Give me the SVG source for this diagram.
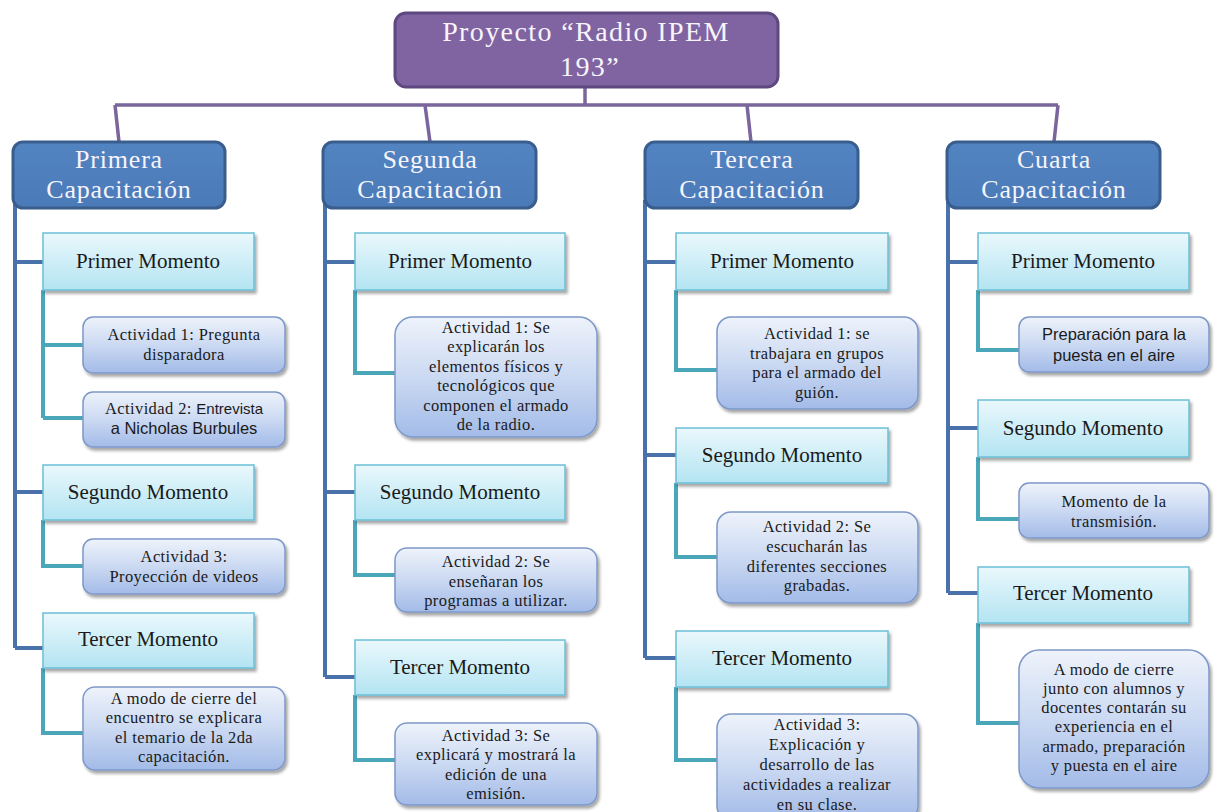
<svg xmlns="http://www.w3.org/2000/svg" width="1214" height="812" viewBox="0 0 1214 812">
<defs>
<linearGradient id="gMom" x1="0" y1="0" x2="0" y2="1">
<stop offset="0" stop-color="#eaf8fc"/><stop offset="1" stop-color="#b3e4f2"/>
</linearGradient>
<linearGradient id="gAct" x1="0" y1="0" x2="0" y2="1">
<stop offset="0" stop-color="#eef3fb"/><stop offset="0.5" stop-color="#cbd9f2"/><stop offset="1" stop-color="#a3bbe8"/>
</linearGradient>
<linearGradient id="gCap" x1="0" y1="0" x2="0" y2="1">
<stop offset="0" stop-color="#5384c2"/><stop offset="1" stop-color="#4a7ab7"/>
</linearGradient>
<filter id="sh" x="-10%" y="-10%" width="125%" height="135%">
<feDropShadow dx="2" dy="3" stdDeviation="1.8" flood-color="#000" flood-opacity="0.35"/>
</filter>
</defs>
<style>
.top{fill:#8064a2;stroke:#5e4880;stroke-width:3}
.cap{fill:url(#gCap);stroke:#395e8e;stroke-width:3}
.mom{fill:url(#gMom);stroke:#6bbfd6;stroke-width:1.5}
.act{fill:url(#gAct);stroke:#7d98c8;stroke-width:1.5}
.tw{font-family:"Liberation Serif","Times New Roman",serif;fill:#f7f4fb;text-anchor:middle}
.tm{font-family:"Liberation Serif","Times New Roman",serif;font-size:21px;fill:#1a1a1a;text-anchor:middle}
.ta{font-family:"Liberation Serif","Times New Roman",serif;font-size:16.5px;letter-spacing:0.4px;fill:#1a1a1a;text-anchor:middle}
.ts{font-family:"Liberation Sans",Arial,sans-serif;letter-spacing:0}
.cp{fill:none;stroke:#7a659c;stroke-width:3.5}
.cb{fill:none;stroke:#4a72aa;stroke-width:4}
.ct{fill:none;stroke:#4aa7ba;stroke-width:4}
</style>
<rect width="1214" height="812" fill="#fff"/>

<g id="connectors">
<path class="cp" d="M585,87 V105 M115,105 H1058 M115,105 L119,142 M425,105 L430,142 M747,105 L751,142 M1058,105 L1054,142"/>
<path class="cb" d="M15,200 V648 M15,262 H43 M15,492 H43 M15,648 H43"/>
<path class="cb" d="M325,200 V677 M325,262 H355 M325,492 H355 M325,677 H355"/>
<path class="cb" d="M645,200 V658 M645,262 H676 M645,455 H676 M645,658 H676"/>
<path class="cb" d="M948,200 V593 M948,262 H978 M948,428 H978 M948,593 H978"/>
<path class="ct" d="M43,290 V418 M43,345 H83 M43,418 H83 M43,520 V566 H83 M43,668 V733 H83"/>
<path class="ct" d="M355,290 V373 H395 M355,520 V575 H395 M355,695 V760 H395"/>
<path class="ct" d="M676,290 V370 H717 M676,483 V557 H717 M676,687 V760 H717"/>
<path class="ct" d="M978,290 V350 H1019 M978,457 V519 H1019 M978,623 V723 H1019"/>
</g>

<g id="root">
<rect class="top" x="395" y="13" width="383" height="74" rx="11"/>
<text class="tw" font-size="28" letter-spacing="1.4" x="586" y="41">Proyecto “Radio IPEM</text>
<text class="tw" font-size="28" letter-spacing="1.4" x="590" y="76">193”</text>
</g>

<g id="cap1"><rect class="cap" x="13" y="142" width="212" height="66" rx="10"/>
<text class="tw" font-size="26" letter-spacing="0.8" x="119" y="168">Primera</text><text class="tw" font-size="26" letter-spacing="0.8" x="119" y="198">Capacitación</text></g>
<g id="cap2"><rect class="cap" x="323" y="142" width="213" height="66" rx="10"/>
<text class="tw" font-size="26" letter-spacing="0.8" x="430" y="168">Segunda</text><text class="tw" font-size="26" letter-spacing="0.8" x="430" y="198">Capacitación</text></g>
<g id="cap3"><rect class="cap" x="645" y="142" width="213" height="66" rx="10"/>
<text class="tw" font-size="26" letter-spacing="0.8" x="752" y="168">Tercera</text><text class="tw" font-size="26" letter-spacing="0.8" x="752" y="198">Capacitación</text></g>
<g id="cap4"><rect class="cap" x="947" y="142" width="213" height="66" rx="10"/>
<text class="tw" font-size="26" letter-spacing="0.8" x="1054" y="168">Cuarta</text><text class="tw" font-size="26" letter-spacing="0.8" x="1054" y="198">Capacitación</text></g>

<!-- Column 1 -->
<g id="c1m1"><rect class="mom" filter="url(#sh)" x="43" y="233" width="211" height="57"/><text class="tm" x="148" y="268">Primer Momento</text></g>
<g id="c1a1"><rect class="act" filter="url(#sh)" x="83" y="317" width="202" height="56" rx="10"/>
<text class="ta" x="184" y="340">Actividad 1: Pregunta</text><text class="ta" x="184" y="360">disparadora</text></g>
<g id="c1a2"><rect class="act" filter="url(#sh)" x="83" y="392" width="202" height="55" rx="10"/>
<text class="ta" x="184" y="414">Actividad 2:  <tspan class="ts" font-size="15">Entrevista</tspan></text><text class="ta ts" font-size="15" x="184" y="434">a Nicholas Burbules</text></g>
<g id="c1m2"><rect class="mom" filter="url(#sh)" x="43" y="465" width="211" height="55"/><text class="tm" x="148" y="499">Segundo Momento</text></g>
<g id="c1a3"><rect class="act" filter="url(#sh)" x="83" y="539" width="202" height="55" rx="10"/>
<text class="ta" x="184" y="562">Actividad 3:</text><text class="ta" x="184" y="582">Proyección de videos</text></g>
<g id="c1m3"><rect class="mom" filter="url(#sh)" x="43" y="613" width="211" height="55"/><text class="tm" x="148" y="646">Tercer Momento</text></g>
<g id="c1a4"><rect class="act" filter="url(#sh)" x="83" y="687" width="202" height="83" rx="12"/>
<text class="ta" x="184" y="704">A modo de cierre  del</text><text class="ta" x="184" y="723">encuentro se explicara</text><text class="ta" x="184" y="743">el temario de la 2da</text><text class="ta" x="184" y="762">capacitación.</text></g>

<!-- Column 2 -->
<g id="c2m1"><rect class="mom" filter="url(#sh)" x="355" y="233" width="210" height="57"/><text class="tm" x="460" y="268">Primer Momento</text></g>
<g id="c2a1"><rect class="act" filter="url(#sh)" x="395" y="317" width="202" height="120" rx="18"/>
<text class="ta" x="496" y="333">Actividad 1: Se</text><text class="ta" x="496" y="352">explicarán los</text><text class="ta" x="496" y="372">elementos físicos y</text><text class="ta" x="496" y="391">tecnológicos que</text><text class="ta" x="496" y="411">componen el armado</text><text class="ta" x="496" y="430">de la radio.</text></g>
<g id="c2m2"><rect class="mom" filter="url(#sh)" x="355" y="465" width="210" height="55"/><text class="tm" x="460" y="499">Segundo Momento</text></g>
<g id="c2a2"><rect class="act" filter="url(#sh)" x="395" y="548" width="202" height="64" rx="12"/>
<text class="ta" x="496" y="567">Actividad 2: Se</text><text class="ta" x="496" y="587">enseñaran los</text><text class="ta" x="496" y="606">programas a utilizar.</text></g>
<g id="c2m3"><rect class="mom" filter="url(#sh)" x="355" y="640" width="210" height="55"/><text class="tm" x="460" y="674">Tercer Momento</text></g>
<g id="c2a3"><rect class="act" filter="url(#sh)" x="395" y="723" width="202" height="82" rx="12"/>
<text class="ta" x="496" y="741">Actividad 3: Se</text><text class="ta" x="496" y="760">explicará y mostrará la</text><text class="ta" x="496" y="780">edición de una</text><text class="ta" x="496" y="799">emisión.</text></g>

<!-- Column 3 -->
<g id="c3m1"><rect class="mom" filter="url(#sh)" x="676" y="233" width="212" height="57"/><text class="tm" x="782" y="268">Primer Momento</text></g>
<g id="c3a1"><rect class="act" filter="url(#sh)" x="717" y="317" width="201" height="92" rx="14"/>
<text class="ta" x="817" y="339">Actividad 1: se</text><text class="ta" x="817" y="359">trabajara en grupos</text><text class="ta" x="817" y="378">para el armado del</text><text class="ta" x="817" y="398">guión.</text></g>
<g id="c3m2"><rect class="mom" filter="url(#sh)" x="676" y="428" width="212" height="55"/><text class="tm" x="782" y="462">Segundo Momento</text></g>
<g id="c3a2"><rect class="act" filter="url(#sh)" x="717" y="512" width="201" height="91" rx="14"/>
<text class="ta" x="817" y="532">Actividad 2: Se</text><text class="ta" x="817" y="552">escucharán las</text><text class="ta" x="817" y="572">diferentes secciones</text><text class="ta" x="817" y="591">grabadas.</text></g>
<g id="c3m3"><rect class="mom" filter="url(#sh)" x="676" y="631" width="212" height="56"/><text class="tm" x="782" y="665">Tercer Momento</text></g>
<g id="c3a3"><rect class="act" filter="url(#sh)" x="717" y="714" width="201" height="106" rx="14"/>
<text class="ta" x="817" y="730">Actividad 3:</text><text class="ta" x="817" y="750">Explicación y</text><text class="ta" x="817" y="770">desarrollo de las</text><text class="ta" x="817" y="790">actividades a realizar</text><text class="ta" x="817" y="810">en su clase.</text></g>

<!-- Column 4 -->
<g id="c4m1"><rect class="mom" filter="url(#sh)" x="978" y="233" width="211" height="57"/><text class="tm" x="1083" y="268">Primer Momento</text></g>
<g id="c4a1"><rect class="act" filter="url(#sh)" x="1019" y="317" width="190" height="55" rx="10"/>
<text class="ta ts" font-size="14.5" x="1114" y="340">Preparación para la</text><text class="ta ts" font-size="14.5" x="1114" y="361">puesta en el aire</text></g>
<g id="c4m2"><rect class="mom" filter="url(#sh)" x="978" y="400" width="211" height="57"/><text class="tm" x="1083" y="435">Segundo Momento</text></g>
<g id="c4a2"><rect class="act" filter="url(#sh)" x="1019" y="483" width="190" height="55" rx="10"/>
<text class="ta" x="1114" y="507">Momento de la</text><text class="ta" x="1114" y="527">transmisión.</text></g>
<g id="c4m3"><rect class="mom" filter="url(#sh)" x="978" y="567" width="211" height="56"/><text class="tm" x="1083" y="600">Tercer Momento</text></g>
<g id="c4a3"><rect class="act" filter="url(#sh)" x="1019" y="650" width="190" height="138" rx="20"/>
<text class="ta" x="1114" y="675">A modo de cierre</text><text class="ta" x="1114" y="694">junto con alumnos y</text><text class="ta" x="1114" y="713">docentes contarán su</text><text class="ta" x="1114" y="732">experiencia en el</text><text class="ta" x="1114" y="752">armado, preparación</text><text class="ta" x="1114" y="771">y puesta en el aire</text></g>
</svg>
